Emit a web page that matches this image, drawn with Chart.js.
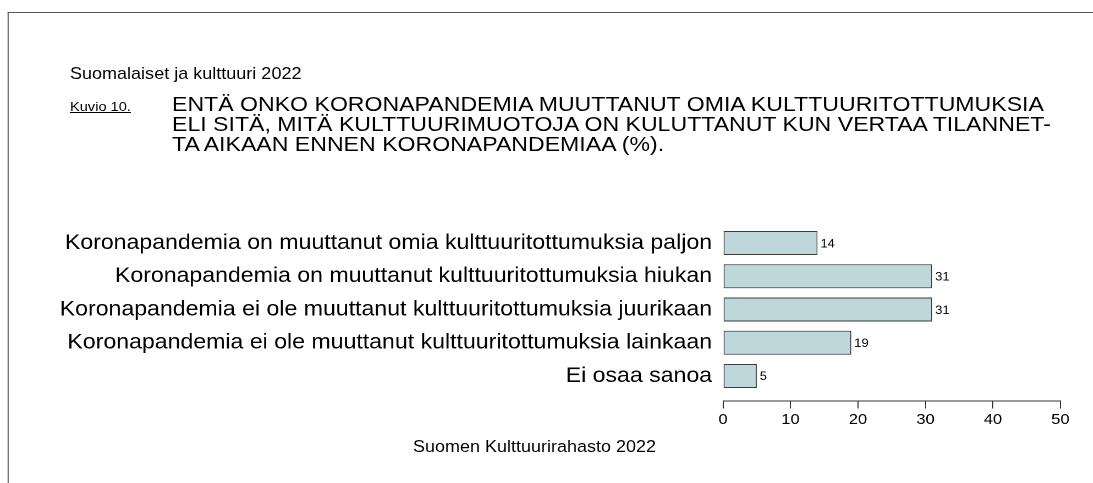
<!DOCTYPE html>
<html>
<head>
<meta charset="utf-8">
<script src="https://cdn.jsdelivr.net/npm/chart.js@4.4.1/dist/chart.umd.min.js"></script>
<style>
  html, body { margin: 0; padding: 0; background: #fff; overflow: hidden; }
  #stage {
    position: absolute; left: 0; top: 0; width: 993.6px; height: 483px;
    transform: scaleX(1.1); transform-origin: 0 0;
    font-family: "Liberation Sans", Arial, sans-serif; color: #000;
  }
  #frame { position: absolute; left: 7.27px; top: 12px; width: 1000px; height: 500px;
    border-left: 1px solid #555; border-top: 1px solid #555; }
  .t { position: absolute; white-space: nowrap; }
  #sup { left: 63.6px; top: 63.2px; font-size: 16.4px; line-height: 20px; }
  #kuvio { left: 63.6px; top: 96.6px; font-size: 13.3px; line-height: 20px; text-decoration: underline; }
  #title { left: 156.4px; top: 93.5px; font-size: 21px; line-height: 20px; }
  #foot { left: 375.5px; top: 436.2px; font-size: 16.35px; line-height: 20px; }
  #c { position: absolute; left: 0; top: 0; }
</style>
</head>
<body>
<div id="stage">
  <div id="frame"></div>
  <div class="t" id="sup">Suomalaiset ja kulttuuri 2022</div>
  <div class="t" id="kuvio">Kuvio 10.</div>
  <div class="t" id="title">ENTÄ ONKO KORONAPANDEMIA MUUTTANUT OMIA KULTTUURITOTTUMUKSIA<br>ELI SITÄ, MITÄ KULTTUURIMUOTOJA ON KULUTTANUT KUN VERTAA TILANNET-<br>TA AIKAAN ENNEN KORONAPANDEMIAA (%).</div>
  <div class="t" id="foot">Suomen Kulttuurirahasto 2022</div>
  <canvas id="c" width="994" height="483" style="width:993.6px;height:483px"></canvas>
</div>
<script>
const categories = [
  "Koronapandemia on muuttanut omia kulttuuritottumuksia paljon",
  "Koronapandemia on muuttanut kulttuuritottumuksia hiukan",
  "Koronapandemia ei ole muuttanut kulttuuritottumuksia juurikaan",
  "Koronapandemia ei ole muuttanut kulttuuritottumuksia lainkaan",
  "Ei osaa sanoa"
];
const values = [14, 31, 31, 19, 5];
const tickValues = [0, 10, 20, 30, 40, 50];

const valueLabels = {
  id: 'valueLabels',
  afterDatasetsDraw(chart) {
    const ctx = chart.ctx;
    const meta = chart.getDatasetMeta(0);
    ctx.save();
    ctx.font = '11.8px "Liberation Sans", Arial, sans-serif';
    ctx.fillStyle = '#000';
    ctx.textAlign = 'left';
    ctx.textBaseline = 'middle';
    meta.data.forEach((el, i) => {
      ctx.fillText(String(values[i]), el.x + 2.7, el.y + 1);
    });
    ctx.restore();
  }
};

new Chart(document.getElementById('c'), {
  type: 'bar',
  data: {
    labels: categories,
    datasets: [{
      data: values,
      backgroundColor: '#BDD7DB',
      borderColor: '#3a3a3a',
      borderWidth: 1,
      borderSkipped: false,
      barPercentage: 0.722,
      categoryPercentage: 1.0
    }]
  },
  options: {
    indexAxis: 'y',
    responsive: false,
    animation: false,
    devicePixelRatio: 2,
    layout: { padding: { left: 0, top: 226.4, right: 30, bottom: 90.4 } },
    plugins: { legend: { display: false }, tooltip: { enabled: false }, title: { display: false } },
    scales: {
      y: {
        type: 'category',
        offset: true,
        grid: { display: false, drawTicks: false },
        border: { display: false },
        afterFit: (s) => { s.width = 657.3; },
        ticks: {
          padding: 10,
          color: '#000',
          font: { family: '"Liberation Sans", Arial, sans-serif', size: 21 }
        }
      },
      x: {
        type: 'linear',
        position: { y: 4.752 },
        min: tickValues[0],
        max: tickValues[tickValues.length - 1],
        afterBuildTicks: (s) => { s.ticks = tickValues.map(v => ({ value: v })); },
        grid: { display: true, drawOnChartArea: false, drawTicks: true, tickLength: 7, color: '#333', lineWidth: 1 },
        border: { display: true, color: '#333', width: 1 },
        ticks: {
          padding: 3,
          color: '#000',
          maxRotation: 0,
          font: { family: '"Liberation Sans", Arial, sans-serif', size: 15 }
        }
      }
    }
  },
  plugins: [valueLabels]
});
</script>
</body>
</html>
